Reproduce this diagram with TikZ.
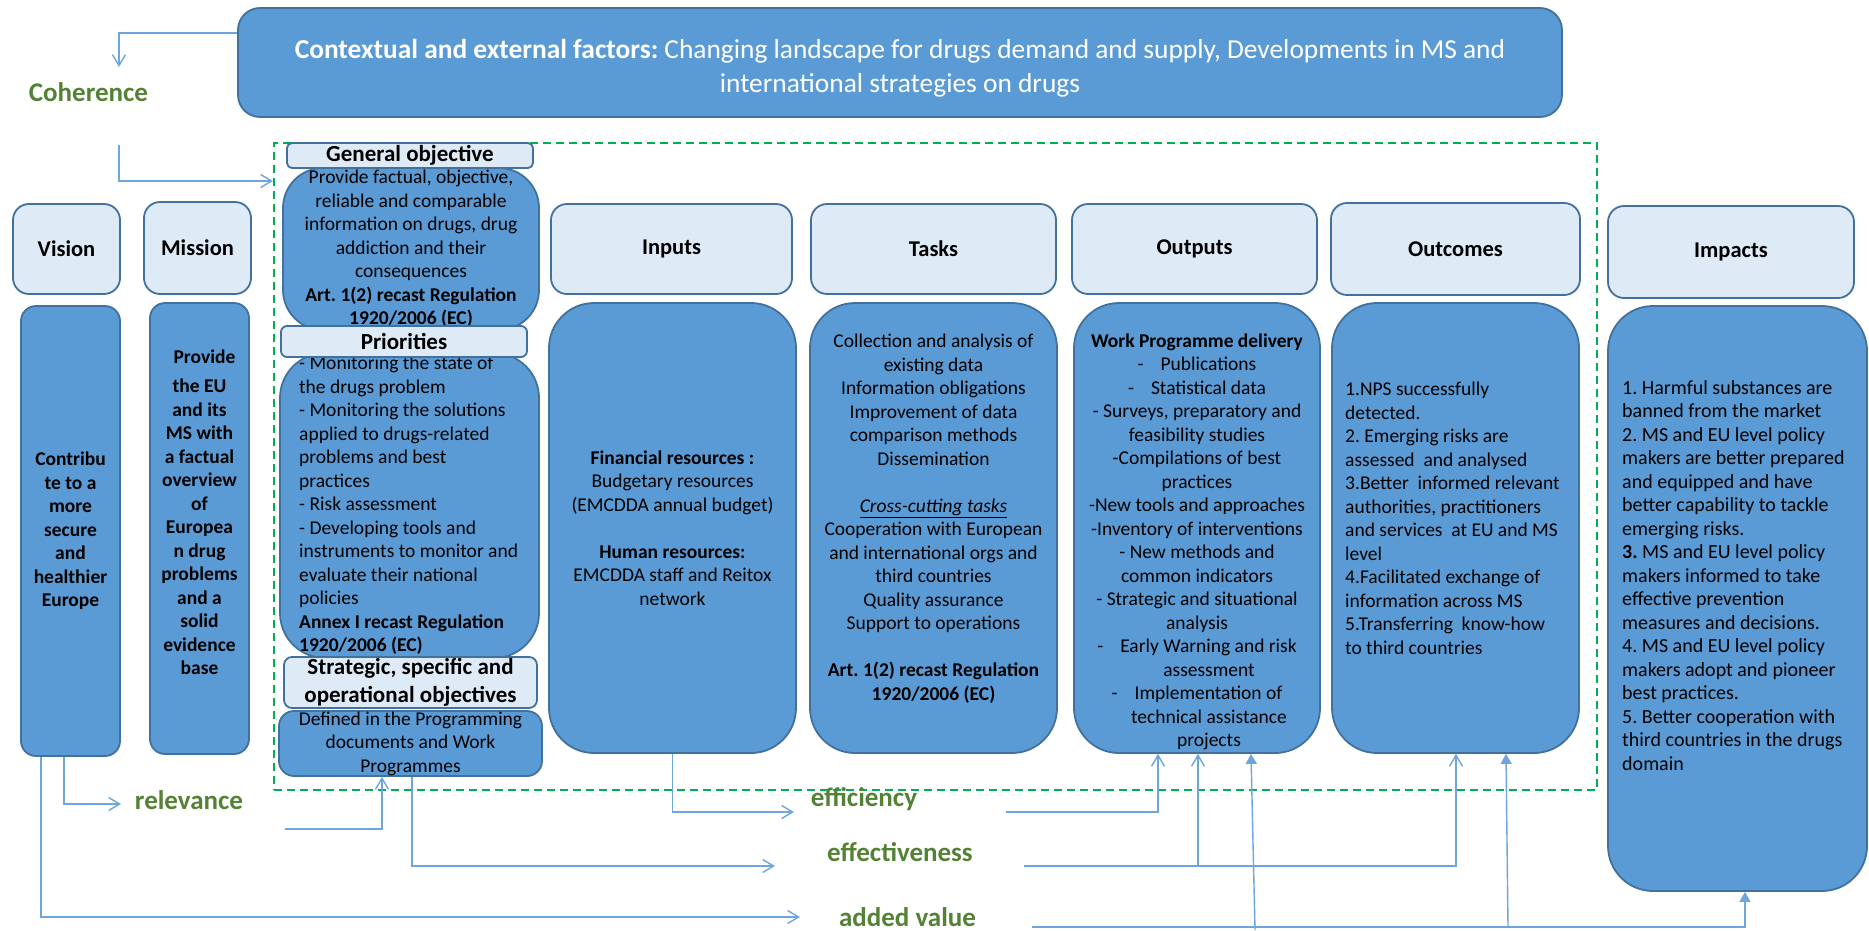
\documentclass[tikz,border=0pt]{standalone}
\usepackage{fontspec}
\setmainfont{Carlito}
\frenchspacing
\usetikzlibrary{arrows.meta}
\definecolor{dblue}{RGB}{91,155,213}
\definecolor{bord}{RGB}{65,113,156}
\definecolor{lblue}{RGB}{222,235,247}
\definecolor{gtxt}{RGB}{84,130,53}
\definecolor{gdash}{RGB}{0,176,80}
\definecolor{cline}{RGB}{110,165,220}
\tikzset{
 hdr/.style={draw=bord, fill=lblue, line width=1.8pt, rounded corners=16pt, inner sep=0pt,
   font=\fontsize{22.5}{27}\selectfont\bfseries, text=black},
 sub/.style={draw=bord, fill=lblue, line width=1.8pt, rounded corners=6pt, inner sep=0pt,
   font=\fontsize{23}{28}\selectfont\bfseries, text=black, align=center},
 body/.style={draw=bord, fill=dblue, line width=1.8pt, rounded corners=45pt, inner sep=0pt,
   font=\fontsize{19.5}{23.5}\selectfont, text=black, align=center},
 txt/.style={inner sep=0pt, font=\fontsize{19.5}{23.5}\selectfont, text=black},
 glab/.style={inner sep=0pt, text=gtxt, font=\fontsize{27}{30}\selectfont\bfseries},
 frm/.style={draw=gdash, line width=2pt, dash pattern=on 8pt off 5pt},
 conn/.style={draw=cline, line width=1.4pt, -{Straight Barb[length=11pt,width=13pt]}},
 connf/.style={draw=cline, line width=1.4pt, -{Triangle[length=10pt,width=11pt]}},
}
\begin{document}
\begin{tikzpicture}[x=1pt,y=-1pt]
\fill[white] (0,0) rectangle (1869,930);
\useasboundingbox (0,0) rectangle (1869,930);

% dashed frame
\node[frm, minimum width=1323pt, minimum height=647pt] (frame) at (935.5,466.5) {};

% top box
\node[draw=bord, fill=dblue, line width=1.8pt, rounded corners=22pt, inner sep=0pt,
  minimum width=1324pt, minimum height=109pt] (top) at (900,62.5) {};
\node[inner sep=0pt, align=center, text=white, font=\fontsize{27.4}{34}\selectfont] (topT) at (900,68)
  {{\bfseries Contextual and external factors:} Changing landscape for drugs demand and supply, Developments in MS and\\ international strategies on drugs};

% green labels
\node[glab] (coh) at (88.5,92) {Coherence};
\node[glab] (rel) at (189,800) {relevance};
\node[glab] (eff) at (864,799) {efficiency};
\node[glab] (effv) at (900,852) {effectiveness};
\node[glab] (addv) at (907.5,917) {added value};

% headers
\node[hdr, minimum width=107pt, minimum height=90pt] (visH) at (66.5,249) {Vision};
\node[hdr, minimum width=107pt, minimum height=92pt] (misH) at (197.5,248) {Mission};
\node[hdr, minimum width=241pt, minimum height=90pt] (inH) at (671.5,249) {Inputs};
\node[hdr, minimum width=245pt, minimum height=90pt] (taH) at (933.5,249) {Tasks};
\node[hdr, minimum width=245pt, minimum height=90pt] (ouH) at (1194.5,249) {Outputs};
\node[hdr, minimum width=249pt, minimum height=92pt] (ocH) at (1455.5,249) {Outcomes};
\node[hdr, minimum width=246pt, minimum height=92pt] (imH) at (1731,252) {Impacts};

% bodies
\node[body, rounded corners=15pt, minimum width=99pt, minimum height=450pt, font=\fontsize{19.5}{23.5}\selectfont\bfseries] (visB) at (70.5,531)
  {Contribu\\ te to a\\ more\\ secure\\ and\\ healthier\\ Europe};
\node[body, rounded corners=15pt, minimum width=99pt, minimum height=451pt] (misB) at (199.5,528.5) {};
\node[txt, align=center, font=\fontsize{19.5}{23.5}\selectfont\bfseries] (misT) at (199.5,512.5)
  {\hspace*{10pt}Provide\\[5.5pt] the EU\\ and its\\ MS with\\ a factual\\ overview\\ of\\ Europea\\ n drug\\ problems\\ and a\\ solid\\ evidence\\ base};

\node[body, minimum width=247pt, minimum height=450pt] (inB) at (672.5,528)
  {\textbf{Financial resources :}\\ Budgetary resources\\ (EMCDDA annual budget)\\[23.5pt] \textbf{Human resources:}\\ EMCDDA staff and Reitox\\ network};

\node[body, minimum width=247pt, minimum height=450pt] (taB) at (933.5,528) {};
\node[txt, align=center] (taT) at (933.5,518.5)
  {Collection and analysis of\\ existing data\\ Information obligations\\ Improvement of data\\ comparison methods\\ Dissemination\\[23.5pt] \underline{\textit{Cross-cutting tasks}}\\ Cooperation with European\\ and international orgs and\\ third countries\\ Quality assurance\\ Support to operations\\[23.5pt] \textbf{Art. 1(2) recast Regulation}\\ \textbf{1920/2006 (EC)}};

\node[body, minimum width=246pt, minimum height=450pt] (ouB) at (1197,528) {};
\node[txt, align=center] (ouT) at (1197,542)
  {\textbf{Work Programme delivery}\\ -\hspace{17pt}Publications\\ -\hspace{17pt}Statistical data\\ - Surveys, preparatory and\\ feasibility studies\\ -Compilations of best\\ practices\\ -New tools and approaches\\ -Inventory of interventions\\ - New methods and\\ common indicators\\ - Strategic and situational\\ analysis\\ -\hspace{17pt}Early Warning and risk\\ \hspace*{24pt}assessment\\ -\hspace{17pt}Implementation of\\ \hspace*{24pt}technical assistance\\ \hspace*{24pt}projects};

\node[body, minimum width=247pt, minimum height=450pt] (ocB) at (1455.5,528) {};
\node[txt, align=left, anchor=west] (ocT) at (1345,518.5)
  {1.NPS successfully\\ detected.\\ 2. Emerging risks are\\ assessed\ \ and analysed\\ 3.Better\ \ informed relevant\\ authorities, practitioners\\ and services\ \ at EU and MS\\ level\\ 4.Facilitated exchange of\\ information across MS\\ 5.Transferring\ \ know-how\\ to third countries};

\node[body, minimum width=259pt, minimum height=585pt] (imB) at (1737.5,598.5) {};
\node[txt, align=left, anchor=west, font=\fontsize{20}{23.5}\selectfont] (imT) at (1622,575.5)
  {1. Harmful substances are\\ banned from the market\\ 2. MS and EU level policy\\ makers are better prepared\\ and equipped and have\\ better capability to tackle\\ emerging risks.\\ \textbf{3.} MS and EU level policy\\ makers informed to take\\ effective prevention\\ measures and decisions.\\ 4. MS and EU level policy\\ makers adopt and pioneer\\ best practices.\\ 5. Better cooperation with\\ third countries in the drugs\\ domain};

% objectives column
\node[body, rounded corners=40pt, minimum width=256pt, minimum height=162pt] (goB) at (411,249)
  {Provide factual, objective,\\ reliable and comparable\\ information on drugs, drug\\ addiction and their\\ consequences\\ \textbf{Art. 1(2) recast Regulation}\\ \textbf{1920/2006 (EC)}};
\node[sub, rounded corners=5pt, minimum width=246pt, minimum height=25pt] (goH) at (410,155.5) {General objective};
\node[body, minimum width=259pt, minimum height=305pt] (prB) at (409.5,505.5) {};
\node[txt, align=left, anchor=west] (prT) at (299,505.5)
  {- Monitoring the state of\\ the drugs problem\\ - Monitoring the solutions\\ applied to drugs-related\\ problems and best\\ practices\\ - Risk assessment\\ - Developing tools and\\ instruments to monitor and\\ evaluate their national\\ policies\\ \textbf{Annex I recast Regulation}\\ \textbf{1920/2006 (EC)}};
\node[sub, minimum width=246pt, minimum height=31pt] (prH) at (404,341.5) {Priorities};
\node[body, rounded corners=15pt, minimum width=263pt, minimum height=65pt] (stB) at (410.5,743.5)
  {Defined in the Programming\\ documents and Work\\ Programmes};
\node[sub, rounded corners=8pt, minimum width=253pt, minimum height=51pt] (stH) at (410.5,682.5)
  {Strategic, specific and\\ operational objectives};

% connectors
\coordinate (cohT) at (119,67);
\coordinate (cohB) at (119,145);
\draw[conn] (top.west |- 0,33) -| (cohT);
\draw[conn] (cohB) |- (frame.west |- 0,181);

\coordinate (relE) at (121,804);
\draw[conn] (visB.south -| 64,0) |- (relE);
\coordinate (addE) at (800,917);
\draw[conn] (visB.south -| 41,0) |- (addE);

\coordinate (relS) at (285,829);
\draw[conn] (relS) -| (stB.south -| 382,0);
\coordinate (effvE) at (775,866);
\draw[conn] (stB.south -| 412,0) |- (effvE);
\coordinate (effE) at (794,812);
\draw[conn] (inB.south) |- (effE);

\coordinate (effS) at (1006,812);
\draw[conn] (effS) -| (ouB.south -| 1158,0);
\coordinate (effvS) at (1024,866);
\draw[conn] (effvS) -| (ocB.south -| 1456,0);
\coordinate (effvB) at (1198,866);
\draw[conn] (effvB) -- (ouB.south -| 1198,0);

\coordinate (addS) at (1032,927);
\draw[connf] (addS) -| (imB.south -| 1745,0);
\coordinate (addB1) at (1508,927);
\draw[connf] (addB1) -- (ocB.south -| 1506,0);
\coordinate (addB2) at (1255,930);
\draw[connf] (addB2) -- (ouB.south -| 1251,0);
\end{tikzpicture}
\end{document}
